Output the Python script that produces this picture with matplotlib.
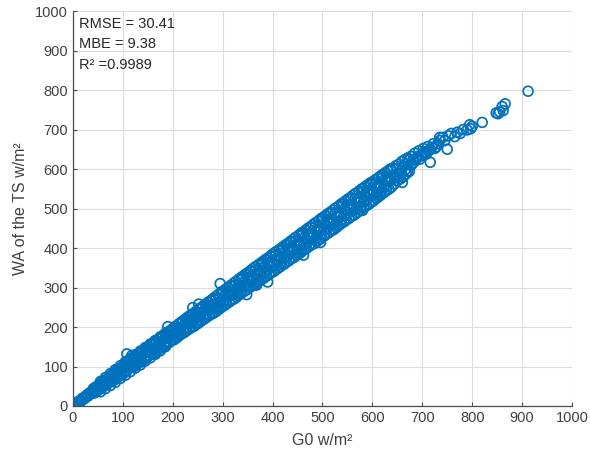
import matplotlib
matplotlib.use("Agg")
import matplotlib.pyplot as plt

# valores (G0 x WA of the TS), pontos aproximados ao longo da faixa
G0 = [0.5, 2, 4, 6, 1, 3, 5, 7, 9, 12, 14, 17, 19, 22, 25, 27, 30, 33, 36, 39,
      41, 43, 46, 48, 51, 53, 56, 58, 61, 63, 66, 68, 71, 73, 76, 78,
      81, 83, 86, 88, 91, 93, 96, 98, 101, 103, 106, 108, 111, 113, 116, 118, 108, 118,
      121, 123, 126, 128, 131, 133, 136, 138, 141, 143, 146, 148, 151, 153, 156, 158,
      161, 163, 166, 168, 171, 173, 176, 178, 181, 183, 186, 188, 191, 193, 196, 198, 190,
      201, 203, 206, 208, 211, 213, 216, 218, 221, 223, 226, 228, 231, 233, 236, 238, 240, 252,
      241, 243, 246, 248, 251, 253, 256, 258, 261, 263, 266, 268, 271, 273, 276, 278,
      281, 283, 286, 288, 291, 293, 296, 298, 301, 303, 306, 308, 311, 313, 316, 318, 295, 348, 368,
      321, 323, 326, 328, 331, 333, 336, 338, 341, 343, 346, 348, 351, 353, 356, 358,
      361, 363, 366, 368, 371, 373, 376, 378, 381, 383, 386, 388, 391, 393, 396, 398,
      401, 403, 406, 408, 411, 413, 416, 418, 421, 423, 426, 428, 431, 433, 436, 438,
      441, 443, 446, 448, 451, 453, 456, 458, 461, 463, 466, 468, 471, 473, 476, 478,
      481, 483, 486, 488, 491, 493, 496, 498, 501, 503, 506, 508, 511, 513, 516, 518,
      390, 462, 496, 580, 660, 716, 750,
      521, 523, 526, 528, 531, 533, 536, 538, 541, 543, 546, 548, 551, 553, 556, 558,
      561, 563, 566, 568, 571, 573, 576, 578, 581, 583, 586, 588, 591, 593, 596, 598,
      601, 603, 606, 608, 611, 613, 616, 618, 621, 623, 626, 628, 631, 633, 636, 638,
      641, 644, 647, 650, 653, 656, 659, 662, 665, 668, 671, 674, 677,
      681, 685, 689, 693, 697, 702, 706, 711, 716, 722, 728, 735, 741,
      745, 752, 758, 765, 770, 776, 782, 790,
      795, 797, 800, 820, 848, 852, 855, 860, 862, 866, 912, 735,
      # pontos do meio da faixa
      2.5, 8, 11, 15, 21, 24, 29, 35, 38,
      40, 42.5, 45, 47.5, 50, 52.5, 55, 57.5, 60, 62.5, 65, 67.5, 70, 72.5, 75, 77.5,
      80, 82.5, 85, 87.5, 90, 92.5, 95, 97.5, 100, 102.5, 105, 107.5, 110, 112.5, 115, 117.5,
      120, 122.5, 125, 127.5, 130, 132.5, 135, 137.5, 140, 142.5, 145, 147.5, 150, 152.5, 155, 157.5,
      160, 162.5, 165, 167.5, 170, 172.5, 175, 177.5, 180, 182.5, 185, 187.5, 190, 192.5, 195, 197.5,
      200, 202.5, 205, 207.5, 210, 212.5, 215, 217.5, 220, 222.5, 225, 227.5, 230, 232.5, 235, 237.5,
      240, 242.5, 245, 247.5, 250, 252.5, 255, 257.5, 260, 262.5, 265, 267.5, 270, 272.5, 275, 277.5,
      280, 282.5, 285, 287.5, 290, 292.5, 295, 297.5, 300, 302.5, 305, 307.5, 310, 312.5, 315, 317.5,
      320, 322.5, 325, 327.5, 330, 332.5, 335, 337.5, 340, 342.5, 345, 347.5, 350, 352.5, 355, 357.5,
      360, 362.5, 365, 367.5, 370, 372.5, 375, 377.5, 380, 382.5, 385, 387.5, 390, 392.5, 395, 397.5,
      400, 402.5, 405, 407.5, 410, 412.5, 415, 417.5, 420, 422.5, 425, 427.5, 430, 432.5, 435, 437.5,
      440, 442.5, 445, 447.5, 450, 452.5, 455, 457.5, 460, 462.5, 465, 467.5, 470, 472.5, 475, 477.5,
      480, 482.5, 485, 487.5, 490, 492.5, 495, 497.5, 500, 502.5, 505, 507.5, 510, 512.5, 515, 517.5,
      520, 522.5, 525, 527.5, 530, 532.5, 535, 537.5, 540, 542.5, 545, 547.5, 550, 552.5, 555, 557.5,
      560, 562.5, 565, 567.5, 570, 572.5, 575, 577.5, 580, 582.5, 585, 587.5, 590, 592.5, 595, 597.5,
      600, 602.5, 605, 607.5, 610, 612.5, 615, 617.5, 620, 622.5, 625, 627.5, 630, 632.5, 635, 637.5,
      642, 646, 650, 654, 658, 662, 666, 670, 674, 678,
      683, 687, 691, 695, 700, 704, 708, 713, 719, 725, 731,
      # bordas da faixa no trecho baixo
      55, 65, 75, 85, 95, 105, 115, 125, 135, 145, 155, 165, 175, 185,
      55, 65, 75, 85, 95, 105, 115, 125, 135, 145, 155, 165, 175, 185]
WA = [0.3, 3, 2, 7, 2, 1, 6, 4, 10, 9, 14, 13, 20, 18, 21, 27, 25, 33, 31, 38,
      44, 33, 48, 40, 41, 55, 45, 59, 62, 51, 67, 55, 70, 60, 76, 64,
      82, 66, 88, 72, 75, 95, 80, 97, 100, 84, 108, 90, 112, 96, 116, 99, 132, 128,
      122, 100, 126, 106, 110, 132, 114, 137, 140, 118, 145, 122, 149, 128, 154, 131,
      160, 134, 165, 139, 143, 170, 147, 175, 178, 152, 183, 157, 188, 161, 192, 166, 201,
      197, 168, 202, 173, 176, 209, 181, 213, 216, 186, 221, 191, 226, 195, 230, 199, 249, 258,
      234, 202, 239, 207, 210, 246, 214, 250, 253, 220, 258, 225, 263, 229, 267, 233,
      272, 236, 277, 240, 244, 284, 248, 289, 291, 254, 296, 259, 300, 263, 305, 268, 310, 282, 306,
      310, 271, 315, 276, 280, 322, 284, 326, 329, 290, 334, 294, 338, 299, 343, 303,
      348, 306, 353, 311, 314, 359, 318, 363, 366, 324, 371, 329, 375, 333, 380, 338,
      385, 341, 390, 346, 349, 396, 353, 400, 403, 359, 408, 364, 412, 368, 417, 373,
      422, 376, 427, 381, 384, 433, 388, 438, 440, 395, 445, 399, 450, 404, 454, 408,
      459, 411, 464, 416, 419, 470, 423, 475, 477, 430, 482, 435, 487, 439, 491, 444,
      314, 382, 414, 495, 566, 617, 650,
      496, 447, 501, 452, 456, 507, 460, 512, 514, 466, 519, 471, 524, 475, 528, 480,
      533, 483, 538, 488, 492, 544, 496, 549, 551, 502, 556, 507, 560, 511, 565, 516,
      568, 520, 573, 526, 529, 579, 533, 584, 586, 540, 591, 545, 595, 549, 600, 554,
      602, 562, 608, 570, 612, 575, 619, 580, 624, 588, 628, 594, 632,
      622, 640, 628, 646, 634, 652, 641, 657, 650, 664, 656, 672, 680,
      672, 684, 690, 682, 693, 690, 700, 699,
      712, 702, 708, 718, 742, 740, 745, 758, 748, 765, 797, 680,
      # pontos do meio da faixa
      2, 8, 11, 13, 19, 22, 26, 31, 34,
      38, 35, 47, 37, 45, 52, 48, 45, 61, 53, 62, 56, 68, 66, 66, 78,
      74, 71, 85, 70, 81, 89, 84, 78, 100, 87, 99, 89, 106, 103, 101, 117,
      111, 106, 123, 105, 118, 126, 120, 112, 138, 123, 135, 125, 143, 139, 137, 156,
      147, 142, 159, 142, 154, 162, 156, 148, 175, 159, 171, 162, 179, 175, 173, 192,
      184, 178, 197, 176, 190, 198, 192, 184, 212, 194, 209, 196, 216, 211, 209, 229,
      220, 214, 234, 211, 226, 236, 228, 218, 249, 230, 245, 231, 253, 248, 245, 267,
      256, 250, 270, 247, 262, 272, 264, 254, 285, 266, 281, 267, 290, 284, 281, 303,
      293, 286, 306, 283, 299, 308, 300, 290, 322, 302, 317, 304, 326, 320, 317, 340,
      329, 321, 343, 319, 335, 345, 336, 326, 359, 337, 354, 339, 363, 356, 354, 378,
      365, 357, 380, 355, 371, 381, 373, 362, 395, 373, 391, 375, 399, 392, 390, 414,
      402, 394, 417, 389, 407, 418, 408, 396, 433, 409, 427, 410, 436, 429, 425, 451,
      438, 430, 453, 425, 444, 454, 444, 432, 470, 445, 463, 446, 473, 465, 461, 487,
      475, 466, 489, 461, 480, 490, 480, 468, 506, 481, 499, 483, 509, 501, 497, 524,
      511, 502, 525, 498, 516, 526, 516, 505, 542, 517, 535, 519, 545, 537, 534, 560,
      547, 538, 561, 534, 552, 562, 553, 541, 578, 553, 572, 555, 581, 573, 570, 596,
      584, 578, 600, 580, 596, 606, 598, 594, 624, 610,
      617, 624, 632, 625, 634, 644, 638, 646, 655, 652, 664,
      # bordas da faixa no trecho baixo
      36, 44, 52, 60, 70, 78, 87, 96, 104, 114, 122, 131, 140, 150,
      62, 72, 82, 92, 102, 112, 121, 130, 139, 148, 157, 166, 175, 184]

stats = ["RMSE = 30.41", "MBE = 9.38", "R\u00b2 =0.9989"]
ticks = list(range(0, 1001, 100))

plt.rcParams['font.family'] = ['Liberation Sans', 'DejaVu Sans']

fig = plt.figure(figsize=(5.9, 4.57), dpi=100)
ax = fig.add_axes([0.1237, 0.1116, 0.8458, 0.8643])

ax.scatter(G0, WA, s=50, facecolors='none', edgecolors='#0072BD', linewidths=1.25)

ax.set_xlim(0, 1000)
ax.set_ylim(0, 1000)
ax.set_xticks(ticks)
ax.set_yticks(ticks)
ax.grid(True, color='#dcdcdc', linewidth=0.8)
ax.set_axisbelow(True)
for lado in ['top', 'right']:
    ax.spines[lado].set_visible(False)
for lado in ['left', 'bottom']:
    ax.spines[lado].set_color('#4d4d4d')
    ax.spines[lado].set_linewidth(0.9)
ax.tick_params(direction='in', length=3, colors='#4d4d4d', labelsize=10.5, labelcolor='#404040')

ax.set_xlabel("G0 w/m\u00b2", fontsize=11.5, color='#404040', labelpad=6)
ax.set_ylabel("WA of the TS w/m\u00b2", fontsize=11.5, color='#404040', labelpad=5)

for i, t in enumerate(stats):
    ax.text(0.012, 0.985 - i * 0.052, t, transform=ax.transAxes, fontsize=10.5,
            va='top', ha='left', color='#262626')

fig.savefig("out.png", dpi=100)
